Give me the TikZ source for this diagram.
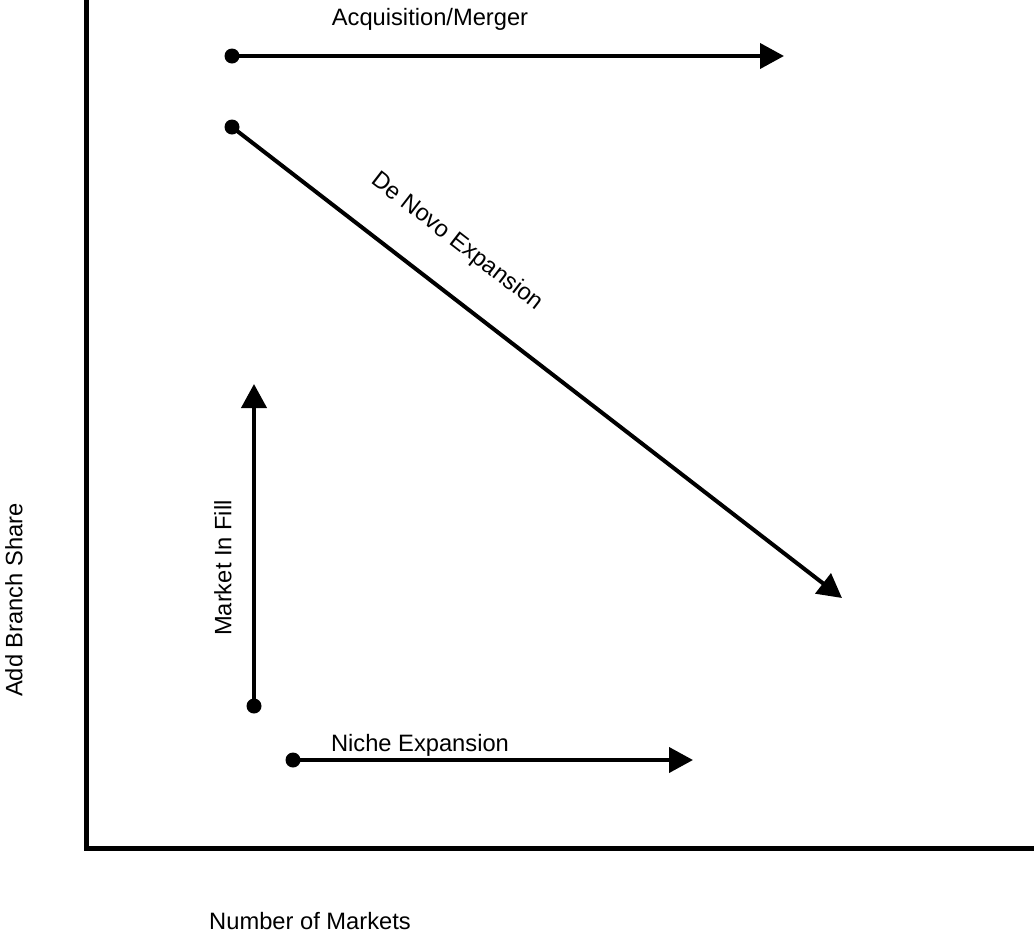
\documentclass[tikz,border=0pt]{standalone}
\usepackage{fontspec}
\setmainfont{Liberation Sans}
\usetikzlibrary{arrows.meta}

\tikzset{
  dot/.style={circle, fill, inner sep=0pt, minimum size=15pt},
  flow/.style={line width=4pt, -{Triangle[length=24pt,width=25pt]}},
  axis/.style={line width=5pt},
  lbl/.style={font=\fontsize{23.7}{28}\selectfont, inner sep=0pt},
}

\begin{document}
\begin{tikzpicture}[x=1pt,y=-1pt]
    \useasboundingbox (0,0) rectangle (1034,938);

    % 軸
    \coordinate (top) at (86,0);
    \coordinate (origin) at (86,848);
    \coordinate (right) at (1034,848);
    \draw[axis] (top) -- (origin) -- (right);

    % 始点
    \node[dot] (acqS) at (232,56) {};
    \node[dot] (novoS) at (232,127) {};
    \node[dot] (fillS) at (254,706) {};
    \node[dot] (nicheS) at (293,760) {};

    % 終点
    \coordinate (acqE) at (784,56);
    \coordinate (novoE) at (842,598);
    \coordinate (fillE) at (254,384);
    \coordinate (nicheE) at (693,760);

    % 矢印
    \draw[flow] (acqS.center) -- (acqE);
    \draw[flow] (novoS.center) -- (novoE);
    \draw[flow] (fillS.center) -- (fillE);
    \draw[flow] (nicheS.center) -- (nicheE);

    % ラベル
    \node[lbl] (acqL) at (430,19) {Acquisition/Merger};
    \node[lbl, rotate=-37.7] (novoL) at (457,242) {De Novo Expansion};
    \node[lbl, rotate=90] (fillL) at (223,568) {Market In Fill};
    \node[lbl] (nicheL) at (420,745) {Niche Expansion};
    \node[lbl, rotate=90] (yL) at (14,600) {Add Branch Share};
    \node[lbl] (xL) at (310,921) {Number of Markets};
\end{tikzpicture}
\end{document}
